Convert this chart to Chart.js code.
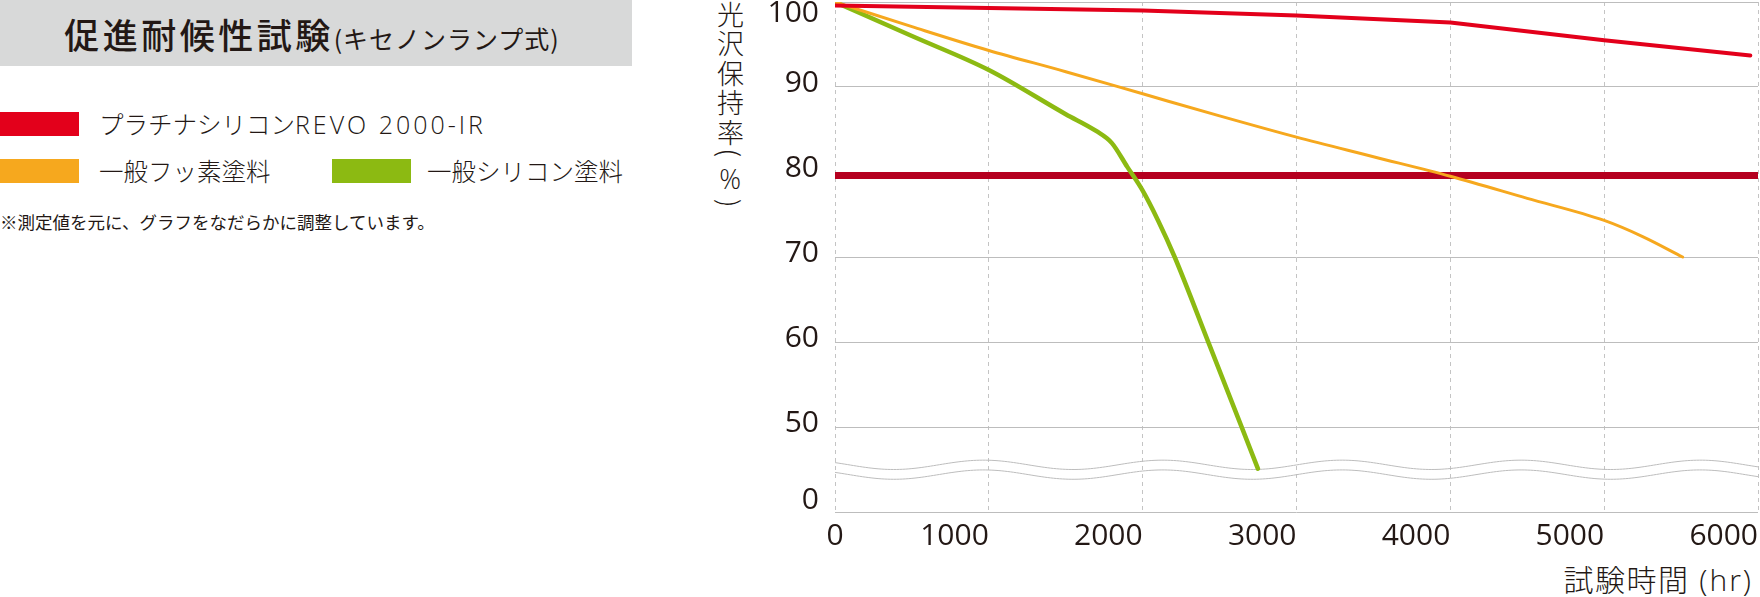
<!DOCTYPE html>
<html lang="ja">
<head>
<meta charset="utf-8">
<script src="https://cdn.jsdelivr.net/npm/chart.js@4.4.1/dist/chart.umd.min.js"></script>
<style>
  body { margin: 0; width: 1760px; height: 597px; background: #fff; position: relative; overflow: hidden;
         font-family: "Noto Sans CJK JP", sans-serif; color: #231815; }
  .titlebox { position: absolute; left: 0; top: 0; width: 632px; height: 66px; background: #d8d9d9;
              display: flex; align-items: center; justify-content: center; }
  .title { font-size: 35px; font-weight: 500; letter-spacing: 3.5px; line-height: 1; padding-right: 8px; }
  .title small { font-size: 25px; font-weight: 400; letter-spacing: 1px; }
  .swatch { position: absolute; width: 79px; height: 24px; }
  .label { position: absolute; font-size: 24.5px; line-height: 24px; white-space: nowrap; font-weight: 300; }
  .latin { font-family: "Open Sans", sans-serif; font-size: 25px; letter-spacing: 3px; font-weight: 300; }
  .note { position: absolute; left: 0; top: 211px; font-size: 17.5px; line-height: 22px; white-space: nowrap; }
  .ytitle { position: absolute; left: 716px; top: 1px; writing-mode: vertical-rl; font-size: 27px;
            letter-spacing: 2.5px; line-height: 28px; font-weight: 300; }
  .ytitle .up { text-orientation: upright; font-family: "Open Sans", sans-serif; }
  .xtitle { position: absolute; right: 7px; top: 560px; font-size: 30px; line-height: 36px; white-space: nowrap;
            letter-spacing: 1.5px; font-weight: 300; }
  .xtitle .latin { font-size: 30px; letter-spacing: 2px; }
  #chart { position: absolute; left: 680px; top: 0; }
</style>
</head>
<body>
<div class="titlebox"><div class="title">促進耐候性試験<small>(キセノンランプ式)</small></div></div>

<div class="swatch" style="left:0;top:112px;background:#e3001b"></div>
<div class="label" style="left:99px;top:112px">プラチナシリコン<span class="latin">REVO 2000-IR</span></div>
<div class="swatch" style="left:0;top:159px;background:#f6a81e"></div>
<div class="label" style="left:99px;top:159px">一般フッ素塗料</div>
<div class="swatch" style="left:332px;top:159px;background:#8cba12"></div>
<div class="label" style="left:427px;top:159px">一般シリコン塗料</div>
<div class="note">※測定値を元に、グラフをなだらかに調整しています。</div>

<div class="ytitle">光沢保持率(<span class="up">%</span>)</div>
<div class="xtitle">試験時間<span class="latin"> (hr)</span></div>

<canvas id="chart" width="1080" height="597"></canvas>

<script>
const FONT = '"Open Sans", "Noto Sans CJK JP", sans-serif';
const TEXT = '#231815';

// hours on the x axis
const hourTicks = [0, 1000, 2000, 3000, 4000, 5000, 6000];
// y axis runs 40..100 internally, the bottom tick is shown as "0" (broken axis)
const yTicks = [40, 50, 60, 70, 80, 90, 100];
const yTickLabels = ['0', '50', '60', '70', '80', '90', '100'];

const revoHours = [0, 1000, 2000, 3000, 4000, 5000, 5950];
const revoGloss = [99.6, 99.3, 99.0, 98.4, 97.6, 95.5, 93.7];

const fluoroHours = [0, 500, 1000, 1500, 2000, 2500, 3000, 3500, 4000, 4500, 5000, 5250, 5510];
const fluoroGloss = [100, 97.1, 94.3, 91.8, 89.2, 86.6, 84.1, 81.8, 79.5, 76.9, 74.3, 72.4, 70.0];

const siliconeHours = [0, 500, 1000, 1500, 1700, 1800, 1900, 2000, 2100, 2208, 2435, 2652, 2749];
const siliconeGloss = [100, 96.0, 92.0, 86.8, 84.8, 83.4, 80.6, 77.8, 74.3, 70.0, 59.6, 49.6, 45.1];

const limitHours = [0, 6000];
const limitGloss = [79.6, 79.6];

const toPoints = (xs, ys) => xs.map((x, i) => ({ x: x, y: ys[i] }));

// wavy break symbol between 0 and 50
const waveCenters = [45.55, 44.4];
const waveAmp = 0.55;
const wavePeriod = 1165;
const waveCrest = 965;

const breakWave = {
  id: 'breakWave',
  beforeDatasetsDraw(chart) {
    const { ctx, scales: { x, y } } = chart;
    ctx.save();
    ctx.strokeStyle = '#bdbdbd';
    ctx.lineWidth = 1;
    waveCenters.forEach(c => {
      ctx.beginPath();
      for (let h = 0; h <= 6000; h += 20) {
        const px = x.getPixelForValue(h);
        const py = y.getPixelForValue(c + waveAmp * Math.cos(2 * Math.PI * (h - waveCrest) / wavePeriod));
        if (h === 0) ctx.moveTo(px, py); else ctx.lineTo(px, py);
      }
      ctx.stroke();
    });
    ctx.restore();
  }
};

new Chart(document.getElementById('chart'), {
  type: 'line',
  data: {
    datasets: [
      { label: 'プラチナシリコンREVO 2000-IR', data: toPoints(revoHours, revoGloss),
        borderColor: '#e3001b', borderWidth: 4, tension: 0 },
      { label: '一般フッ素塗料', data: toPoints(fluoroHours, fluoroGloss),
        borderColor: '#f6a81e', borderWidth: 3, cubicInterpolationMode: 'monotone' },
      { label: '一般シリコン塗料', data: toPoints(siliconeHours, siliconeGloss),
        borderColor: '#8cba12', borderWidth: 4.5, cubicInterpolationMode: 'monotone' },
      { label: '80%', data: toPoints(limitHours, limitGloss),
        borderColor: '#b5001f', borderWidth: 7, borderCapStyle: 'butt', tension: 0 }
    ]
  },
  options: {
    responsive: false,
    animation: false,
    layout: { padding: { top: 2, right: 2, bottom: 0, left: 0 } },
    elements: { point: { radius: 0 }, line: { borderCapStyle: 'round', borderJoinStyle: 'round' } },
    plugins: { legend: { display: false }, tooltip: { enabled: false } },
    scales: {
      x: {
        type: 'linear', min: 0, max: 6000,
        afterBuildTicks: s => { s.ticks = hourTicks.map(v => ({ value: v })); },
        ticks: {
          color: TEXT, padding: 6, maxRotation: 0,
          font: { family: FONT, size: 30 },
          // pad with figure spaces so each number ends on its grid line, 0 stays centred
          callback: v => v === 0 ? '0' : String(v) + '\u2007'.repeat(String(v).length)
        },
        grid: { color: '#c4c4c4', lineWidth: 1, drawTicks: false },
        border: { display: false, dash: [4, 4] },
        afterFit: s => { s.height = 85; s.paddingLeft = 0; s.paddingRight = 0; }
      },
      y: {
        type: 'linear', min: 40, max: 100,
        afterBuildTicks: s => { s.ticks = yTicks.map(v => ({ value: v })); },
        ticks: {
          color: TEXT, padding: 16, labelOffset: -4,
          font: ctx => ({ family: FONT, size: 30,
            lineHeight: ctx.tick && ctx.tick.value === 100 ? '30px' : (ctx.tick && ctx.tick.value === 40 ? '16px' : 1.2) }),
          callback: v => {
            const t = yTickLabels[yTicks.indexOf(v)];
            if (v === 100) return ['', t];
            if (v === 40) return [t, ''];
            return t;
          }
        },
        grid: { color: '#bdbdbd', lineWidth: 1, drawTicks: false },
        border: { display: false },
        afterFit: s => { s.width = 155; s.paddingTop = 0; s.paddingBottom = 0; }
      }
    }
  },
  plugins: [breakWave]
});
</script>
</body>
</html>
